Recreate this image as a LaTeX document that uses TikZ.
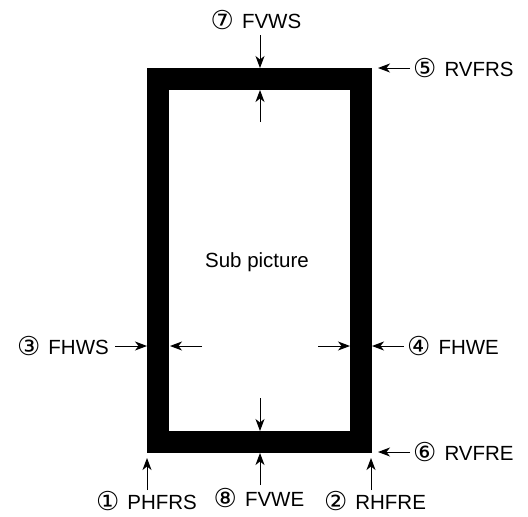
\documentclass[tikz,border=0pt]{standalone}
\usepackage{fontspec}
\setmainfont{Liberation Sans}
\newfontfamily\dvfont{DejaVu Sans}
\usetikzlibrary{arrows.meta}
\newcommand{\cnum}[1]{\raisebox{-1pt}{\dvfont\fontsize{26}{26}\selectfont #1}\hspace{8pt}}
\begin{document}
\begin{tikzpicture}[x=1pt,y=-1pt,
  lbl/.style={inner sep=0pt,font=\fontsize{20.5}{22}\selectfont},
  arr/.style={line width=1pt,-{Stealth[length=12pt,width=9pt,inset=3.5pt]}},
  frame/.style={draw=black,line width=22pt,minimum width=203pt,minimum height=363pt,inner sep=0pt}]
\useasboundingbox (0,0) rectangle (528,517);
\node[frame] (fr) at (259.5,260.5) {};
\node[lbl] (sub) at (257,262) {Sub picture};
% top
\node[lbl] (t7) at (256,20) {\cnum{⑦}FVWS};
\coordinate (a7s) at (260,35); \coordinate (a7e) at (260,68);
\coordinate (i7s) at (260,122); \coordinate (i7e) at (260,90);
\draw[arr] (a7s) -- (a7e);
\draw[arr] (i7s) -- (i7e);
% 5
\coordinate (a5s) at (410,68); \coordinate (a5e) at (378,68);
\node[lbl,anchor=west] (t5) at (413,68) {\cnum{⑤}RVFRS};
\draw[arr] (a5s) -- (a5e);
% 3
\node[lbl,anchor=east] (t3) at (109,346) {\cnum{③}FHWS};
\coordinate (a3s) at (115,346); \coordinate (a3e) at (147,346);
\coordinate (i3s) at (202,346); \coordinate (i3e) at (170,346);
\draw[arr] (a3s) -- (a3e);
\draw[arr] (i3s) -- (i3e);
% 4
\coordinate (i4s) at (318,346); \coordinate (i4e) at (350,346);
\coordinate (a4s) at (404,346); \coordinate (a4e) at (372,346);
\node[lbl,anchor=west] (t4) at (407,346) {\cnum{④}FHWE};
\draw[arr] (i4s) -- (i4e);
\draw[arr] (a4s) -- (a4e);
% 6
\coordinate (a6s) at (410,452); \coordinate (a6e) at (378,452);
\node[lbl,anchor=west] (t6) at (413,452) {\cnum{⑥}RVFRE};
\draw[arr] (a6s) -- (a6e);
% bottom
\coordinate (a1s) at (147,490); \coordinate (a1e) at (147,458);
\node[lbl] (t1) at (146.5,501) {\cnum{①}PHFRS};
\draw[arr] (a1s) -- (a1e);
\coordinate (a8s) at (260,485); \coordinate (a8e) at (260,453);
\node[lbl] (t8) at (259,498) {\cnum{⑧}FVWE};
\draw[arr] (a8s) -- (a8e);
\coordinate (i8s) at (260,398); \coordinate (i8e) at (260,431);
\draw[arr] (i8s) -- (i8e);
\coordinate (a2s) at (371,490); \coordinate (a2e) at (371,458);
\node[lbl] (t2) at (375,501) {\cnum{②}RHFRE};
\draw[arr] (a2s) -- (a2e);
\end{tikzpicture}
\end{document}
